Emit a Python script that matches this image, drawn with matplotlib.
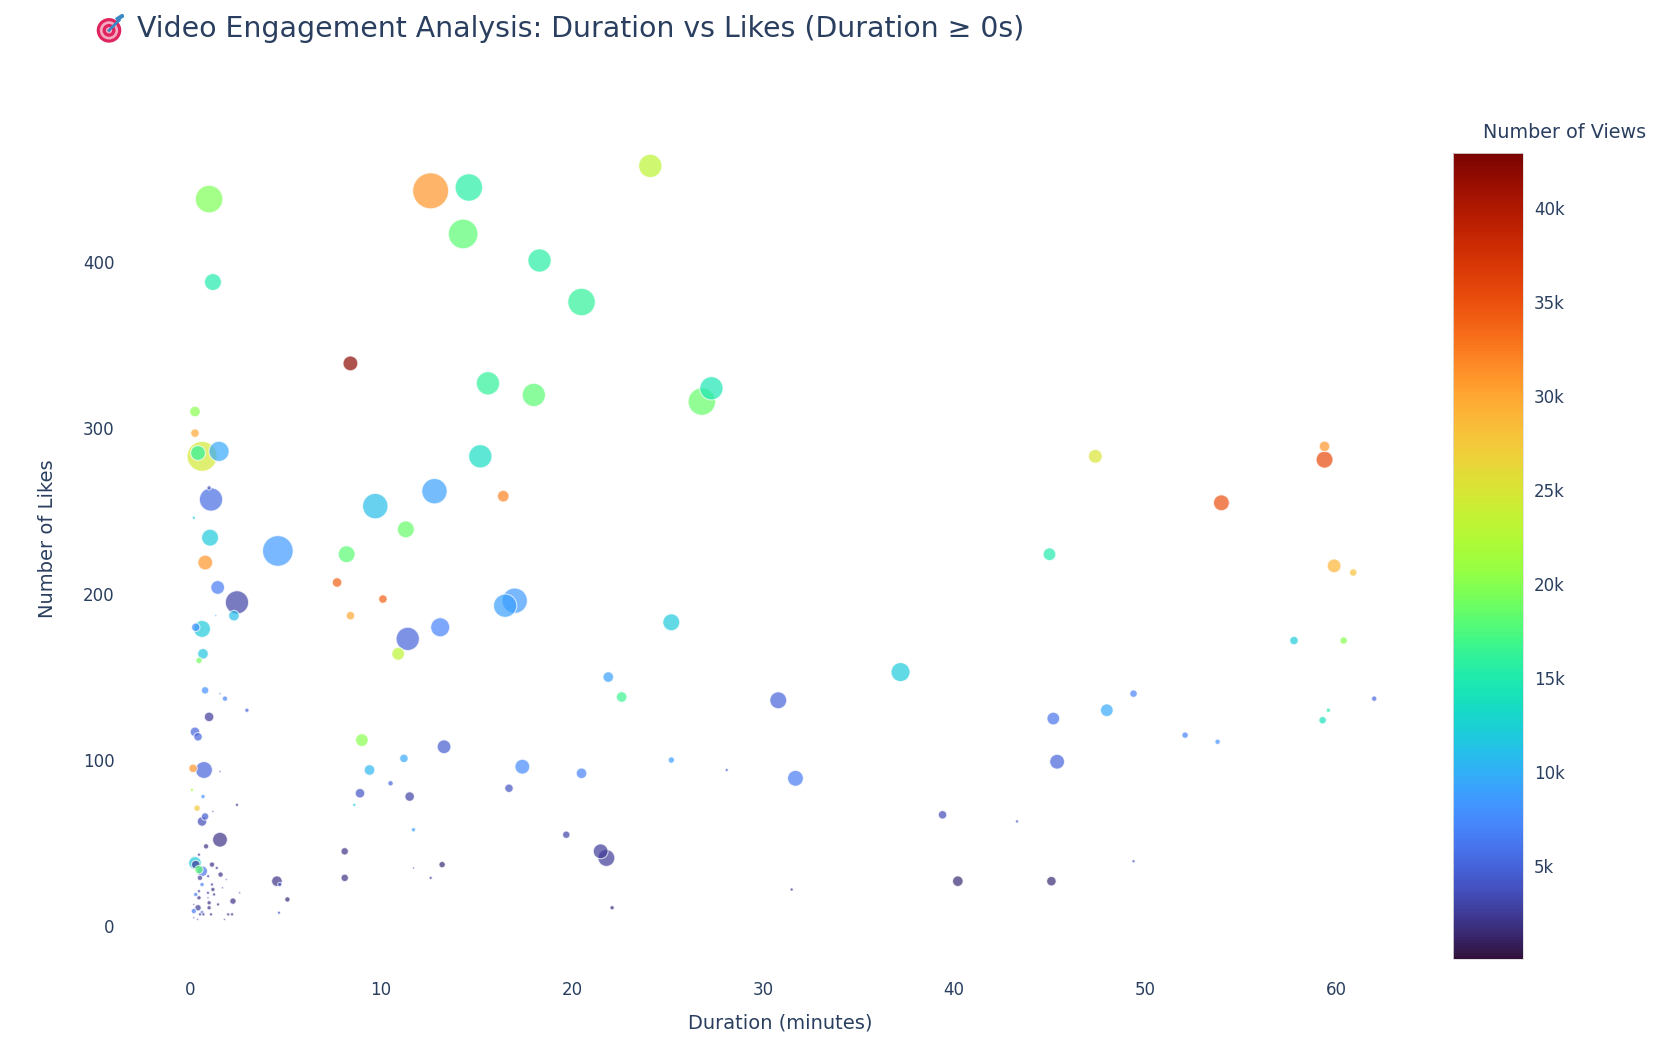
import numpy as np
import matplotlib
matplotlib.use("Agg")
import matplotlib.pyplot as plt
from matplotlib.colors import Normalize
from matplotlib.patches import Circle

# ---------------- data ----------------
duration_min = [
    12.6, 14.6, 24.1, 1.0, 14.3, 18.3, 20.5, 1.2, 8.4, 15.6, 18.0, 26.8, 27.3,
    47.4, 59.4, 59.4, 54.0, 0.26, 0.26, 0.63, 0.42, 1.52, 15.2, 12.8, 16.4, 9.7,
    1.1, 1.0, 11.3, 1.05, 4.6, 8.2, 45.0, 0.8, 59.9, 60.9, 0.2, 7.7, 10.1, 8.4,
    1.45, 2.46, 2.3, 1.35, 16.5, 17.0, 13.1, 11.4, 10.9, 25.2, 0.63, 0.3, 0.68,
    0.47, 21.9, 22.6, 37.2, 57.8, 60.4, 0.79, 1.57, 1.83, 2.98, 30.8, 49.4, 48.0,
    62.0, 59.6, 59.3, 45.2, 52.1, 53.8, 1.0, 0.26, 0.42, 9.0, 13.3, 45.4, 0.16,
    0.73, 1.57, 9.4, 11.2, 17.4, 20.5, 25.2, 28.1, 31.7, 8.9, 10.5, 11.5, 8.6,
    11.7, 16.7, 19.7, 21.5, 21.8, 39.4, 43.3, 49.4, 40.2, 45.1, 31.5, 22.1, 8.1,
    8.1, 13.2, 12.6, 11.7, 4.55, 4.7, 5.1, 4.66,
    0.1, 0.68, 0.37, 1.2, 2.46, 0.79, 0.63, 1.57, 0.84, 0.47, 0.26, 0.3, 0.64,
    0.47, 1.15, 1.4, 1.6, 0.52, 0.95, 0.63, 1.15, 1.7, 1.9, 1.2, 0.47, 0.3, 0.94,
    1.26, 0.47, 0.94, 1.0, 1.47, 2.25, 2.6, 0.2, 0.42, 1.0, 0.2, 0.63, 0.52, 0.7,
    1.1, 2.0, 2.2, 0.2, 0.4, 1.8,
]
likes = [
    443, 445, 458, 438, 417, 401, 376, 388, 339, 327, 320, 316, 324,
    283, 289, 281, 255, 310, 297, 283, 285, 286, 283, 262, 259, 253,
    257, 264, 239, 234, 226, 224, 224, 219, 217, 213, 246, 207, 197, 187,
    204, 195, 187, 187, 193, 196, 180, 173, 164, 183, 179, 180, 164,
    160, 150, 138, 153, 172, 172, 142, 140, 137, 130, 136, 140, 130,
    137, 130, 124, 125, 115, 111, 126, 117, 114, 112, 108, 99, 95,
    94, 93, 94, 101, 96, 92, 100, 94, 89, 80, 86, 78, 73,
    58, 83, 55, 45, 41, 67, 63, 39, 27, 27, 22, 11, 45,
    29, 37, 29, 35, 27, 25, 16, 8,
    82, 78, 71, 69, 73, 66, 63, 52, 48, 43, 38, 37, 33,
    34, 37, 35, 31, 29, 30, 25, 25, 23, 28, 22, 21, 19, 20,
    19, 17, 17, 14, 13, 15, 20, 13, 11, 11, 9, 8, 7, 7,
    7, 7, 7, 5, 4, 4,
]
views = [
    31000, 15500, 23000, 19500, 18000, 15500, 16000, 15000, 42000, 16000, 18000, 18500, 14500,
    25000, 31000, 35500, 35000, 20000, 30000, 24500, 16000, 9500, 13500, 9000, 32000, 11000,
    5500, 3500, 18500, 12000, 8500, 18000, 15000, 31000, 29000, 28000, 12000, 34000, 34000, 30000,
    6500, 3000, 11000, 9000, 9000, 8500, 7000, 5000, 23000, 12000, 12000, 8000, 11500,
    19000, 9000, 16500, 12000, 12000, 20000, 8000, 6000, 7000, 5000, 5000, 7000, 9500,
    5000, 15000, 14000, 6000, 7000, 8000, 2500, 5000, 5000, 20000, 4500, 5000, 31000,
    5000, 3000, 10500, 9500, 7500, 7000, 9000, 5000, 6500, 4000, 5000, 3000, 12000,
    9000, 4000, 3000, 2500, 2500, 3500, 4000, 4000, 1500, 1500, 2000, 1500, 2000,
    2000, 1500, 3000, 3000, 2000, 4000, 1500, 4000,
    22000, 8000, 27500, 3000, 2000, 4500, 3500, 2000, 2000, 2500, 12000, 2500, 6000,
    18000, 2000, 2000, 2000, 2500, 3000, 6500, 2500, 3000, 5000, 2000, 2500, 6500, 3000,
    2000, 2000, 3000, 2000, 2000, 2000, 3000, 3000, 2500, 2000, 6500, 5000, 2500, 2500,
    2000, 2000, 2000, 3000, 3000, 2500,
]
comments = [
    1156, 676, 484, 676, 784, 484, 676, 256, 196, 484, 484, 676, 484,
    169, 100, 256, 225, 100, 64, 800, 196, 361, 484, 576, 121, 576,
    484, 16, 256, 256, 841, 256, 144, 196, 169, 49, 9, 81, 64, 64,
    169, 484, 100, 4, 484, 576, 324, 484, 144, 256, 256, 64, 100,
    36, 100, 100, 324, 64, 49, 49, 4, 25, 16, 256, 49, 144,
    25, 16, 49, 144, 36, 25, 81, 81, 64, 144, 169, 196, 64,
    256, 4, 100, 64, 196, 100, 36, 9, 225, 81, 25, 81, 9,
    16, 64, 49, 196, 256, 64, 9, 9, 100, 81, 9, 16, 49,
    49, 36, 9, 4, 100, 16, 25, 9,
    9, 16, 36, 4, 9, 49, 81, 196, 25, 9, 144, 64, 100,
    64, 25, 9, 25, 25, 9, 16, 9, 4, 4, 16, 9, 16, 9,
    9, 16, 4, 16, 9, 36, 4, 4, 36, 16, 25, 16, 9, 9,
    9, 9, 9, 4, 4, 4,
]
x_ticks = [0, 10, 20, 30, 40, 50, 60]
y_ticks = [0, 100, 200, 300, 400]
cbar_ticks = [5000, 10000, 15000, 20000, 25000, 30000, 35000, 40000]
cbar_labels = ["5k", "10k", "15k", "20k", "25k", "30k", "35k", "40k"]

TEXT = "#2a3f5f"
plt.rcParams["font.family"] = ["DejaVu Sans"]

W, H = 1658, 1052
fig = plt.figure(figsize=(W / 100, H / 100), dpi=100)
fig.patch.set_facecolor("white")

# plot area in pixels
L, R, B, T = 130, 1410, 975, 105
x0_px, x_per = 190.0, 19.1
y0_px, y_per = 926.0, 1.6596
ax = fig.add_axes([L / W, 1 - B / H, (R - L) / W, (B - T) / H])
ax.set_xlim((L - x0_px) / x_per, (R - x0_px) / x_per)
ax.set_ylim(-(B - y0_px) / y_per, (y0_px - T) / y_per)

norm = Normalize(vmin=50, vmax=42900)
cmap = plt.get_cmap("turbo")
sizes = np.array(comments, dtype=float) * (0.72 / 0.946) ** 2
order = np.argsort(-np.array(comments))
sc = ax.scatter(np.array(duration_min)[order], np.array(likes)[order],
                s=sizes[order], c=np.array(views)[order], cmap=cmap, norm=norm,
                alpha=0.7, edgecolors="white", linewidths=0.8, clip_on=False, zorder=3)

for sp in ax.spines.values():
    sp.set_visible(False)
ax.set_xticks(x_ticks)
ax.set_yticks(y_ticks)
ax.tick_params(axis="both", length=0, labelsize=12, colors=TEXT)
ax.tick_params(axis="x", pad=4)
ax.tick_params(axis="y", pad=11)
ax.grid(False)

fig.text(780 / W, 1 - 1023 / H, "Duration (minutes)", ha="center", va="center",
         fontsize=14, color=TEXT)
fig.text(48 / W, 1 - 539 / H, "Number of Likes", ha="center", va="center",
         rotation=90, fontsize=14, color=TEXT)

# title with small target icon
fig.text(137 / W, 1 - 29 / H, "Video Engagement Analysis: Duration vs Likes (Duration \u2265 0s)",
         ha="left", va="center", fontsize=20.4, color=TEXT)
iax = fig.add_axes([94 / W, 1 - 44 / H, 30 / W, 30 / H])
iax.set_xlim(-1.1, 1.1)
iax.set_ylim(-1.1, 1.1)
iax.set_aspect("equal")
iax.axis("off")
for r, c in [(0.85, "#e0245e"), (0.62, "#f4a9c0"), (0.42, "#e0245e"), (0.18, "#f4a9c0")]:
    iax.add_patch(Circle((0, -0.1), r, color=c))
iax.plot([0.0, 0.75], [-0.1, 0.65], color="#3b88c3", lw=2)
iax.plot([0.65, 0.95], [0.75, 0.95], color="#3b88c3", lw=3)

# colorbar
cax = fig.add_axes([1453 / W, 1 - 959 / H, 70 / W, (959 - 153) / H])
cb = fig.colorbar(sc, cax=cax)
cb.solids.set_alpha(1)
cb.set_ticks(cbar_ticks)
cb.set_ticklabels(cbar_labels)
cb.outline.set_edgecolor("#dddddd")
cb.outline.set_linewidth(0.6)
cax.tick_params(length=0, labelsize=12, colors=TEXT, pad=8)
fig.text(1483 / W, 1 - 132 / H, "Number of Views", ha="left", va="center",
         fontsize=13.8, color=TEXT)

fig.savefig("out.png", dpi=100)
